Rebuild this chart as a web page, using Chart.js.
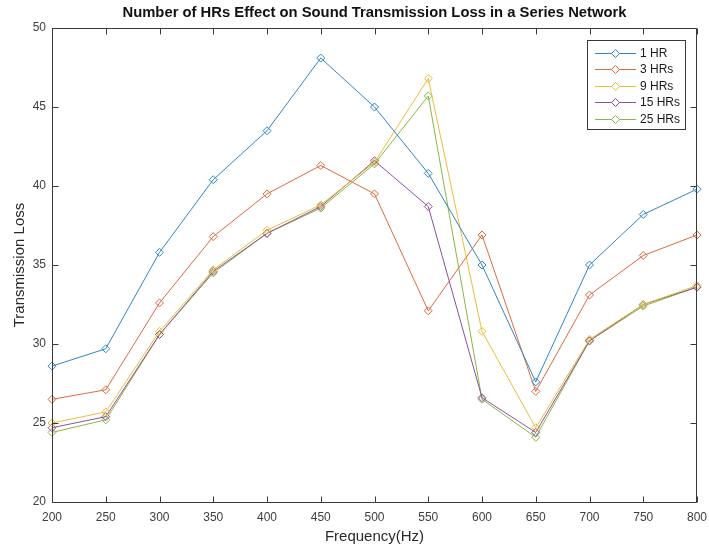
<!DOCTYPE html>
<html>
<head>
<meta charset="utf-8">
<script src="https://cdn.jsdelivr.net/npm/chart.js@4/dist/chart.umd.min.js"></script>
<style>
  html, body { margin: 0; padding: 0; background: #ffffff; }
  #wrap { width: 709px; height: 550px; position: relative; }
</style>
</head>
<body>
<div id="wrap"><canvas id="c" width="709" height="550"></canvas></div>
<script>
// Frequencies (Hz) and transmission loss for each resonator count
const freqs = [200, 250, 300, 350, 400, 450, 500, 550, 600, 650, 700, 750, 800];
const hr1  = [28.6, 29.7, 35.8, 40.4, 43.5, 48.1, 45.0, 40.8, 35.0, 27.6, 35.0, 38.2, 39.8];
const hr3  = [26.5, 27.1, 32.6, 36.8, 39.5, 41.3, 39.5, 32.1, 36.9, 27.0, 33.1, 35.6, 36.9];
const hr9  = [25.0, 25.7, 30.8, 34.7, 37.2, 38.8, 41.5, 46.8, 30.8, 24.7, 30.3, 32.5, 33.7];
const hr15 = [24.7, 25.4, 30.6, 34.6, 37.0, 38.7, 41.6, 38.7, 26.6, 24.4, 30.2, 32.5, 33.6];
const hr25 = [24.4, 25.2, 30.6, 34.5, 37.0, 38.6, 41.4, 45.7, 26.5, 24.1, 30.2, 32.4, 33.6];
const seriesNames = ['1 HR', '3 HRs', '9 HRs', '15 HRs', '25 HRs'];
const seriesValues = [hr1, hr3, hr9, hr15, hr25];
const xTicks = [200, 250, 300, 350, 400, 450, 500, 550, 600, 650, 700, 750, 800];
const yTicks = [20, 25, 30, 35, 40, 45, 50];

const colors = ['#2f87c2', '#dc6a40', '#e9bd3a', '#8f4f9f', '#88b648'];
const axisColor = '#3a3a3a';
const labelColor = '#404040';
const FONT = '"Liberation Sans", Arial, Helvetica, sans-serif';

// Box, inward tick marks, titles and the in-plot legend
const framePlugin = {
  id: 'frame',
  afterDatasetsDraw(chart) {
    const { ctx, chartArea: a, scales } = chart;
    const tl = 6;
    const L = Math.round(a.left) + 0.5, R = Math.round(a.right) - 0.5;
    const T = Math.round(a.top) + 0.5, B = Math.round(a.bottom) + 0.5;
    ctx.save();
    ctx.strokeStyle = axisColor;
    ctx.lineWidth = 1;
    ctx.beginPath();
    ctx.rect(L, T, R - L, B - T);
    ctx.stroke();
    ctx.beginPath();
    xTicks.forEach(v => {
      const x = Math.round(scales.x.getPixelForValue(v)) + 0.5;
      ctx.moveTo(x, B); ctx.lineTo(x, B - tl);
      ctx.moveTo(x, T); ctx.lineTo(x, T + tl);
    });
    yTicks.forEach(v => {
      const y = Math.round(scales.y.getPixelForValue(v)) + 0.5;
      ctx.moveTo(L, y); ctx.lineTo(L + tl, y);
      ctx.moveTo(R, y); ctx.lineTo(R - tl, y);
    });
    ctx.stroke();
    ctx.restore();
  },
  afterDraw(chart) {
    const { ctx, chartArea: a } = chart;
    const cx = (a.left + a.right) / 2;
    ctx.save();
    ctx.fillStyle = '#111111';
    ctx.textAlign = 'center';
    ctx.textBaseline = 'middle';
    ctx.font = 'bold 14.8px ' + FONT;
    ctx.fillText('Number of HRs Effect on Sound Transmission Loss in a Series Network', cx, 13);
    ctx.fillStyle = '#2a2a2a';
    ctx.font = '15px ' + FONT;
    ctx.fillText('Frequency(Hz)', cx, 537);
    ctx.translate(20, (a.top + a.bottom) / 2);
    ctx.rotate(-Math.PI / 2);
    ctx.fillText('Transmission Loss', 0, 0);
    ctx.restore();

    // legend
    ctx.save();
    const bx = 587.5, by = 40.5, bw = 98, bh = 89;
    ctx.fillStyle = '#ffffff';
    ctx.fillRect(bx, by, bw, bh);
    ctx.strokeStyle = axisColor;
    ctx.lineWidth = 1;
    ctx.strokeRect(bx, by, bw, bh);
    ctx.font = '12px ' + FONT;
    ctx.textAlign = 'left';
    ctx.textBaseline = 'middle';
    chart.data.datasets.forEach((ds, i) => {
      const y = Math.round(53 + i * 16.4) + 0.5;
      ctx.strokeStyle = ds.borderColor;
      ctx.beginPath();
      ctx.moveTo(595, y); ctx.lineTo(636, y);
      ctx.stroke();
      ctx.beginPath();
      ctx.moveTo(615.5, y - 4); ctx.lineTo(619.5, y); ctx.lineTo(615.5, y + 4); ctx.lineTo(611.5, y);
      ctx.closePath();
      ctx.fillStyle = '#ffffff';
      ctx.fill();
      ctx.stroke();
      ctx.fillStyle = '#1a1a1a';
      ctx.fillText(ds.label, 640, y + 0.5);
    });
    ctx.restore();
  }
};

new Chart(document.getElementById('c').getContext('2d'), {
  type: 'line',
  data: {
    datasets: seriesNames.map((name, i) => ({
      label: name,
      data: freqs.map((f, j) => ({ x: f, y: seriesValues[i][j] })),
      borderColor: colors[i],
      backgroundColor: 'rgba(0,0,0,0)',
      borderWidth: 1,
      pointStyle: 'rectRot',
      pointRadius: 4,
      pointBorderWidth: 1,
      pointBorderColor: colors[i],
      pointBackgroundColor: 'rgba(0,0,0,0)',
      tension: 0,
      clip: false
    }))
  },
  options: {
    responsive: false,
    animation: false,
    devicePixelRatio: 1,
    layout: { padding: { top: 28, right: 12, bottom: 0, left: 0 } },
    plugins: { legend: { display: false }, title: { display: false }, tooltip: { enabled: false } },
    scales: {
      x: {
        type: 'linear', min: 200, max: 800,
        afterBuildTicks(s) { s.ticks = xTicks.map(v => ({ value: v })); },
        ticks: { padding: 8, color: labelColor, font: { family: FONT, size: 12 }, maxRotation: 0, autoSkip: false },
        grid: { display: false, drawTicks: false },
        border: { display: false },
        afterFit(s) { s.height = 48; s.paddingLeft = 0; s.paddingRight = 0; }
      },
      y: {
        type: 'linear', min: 20, max: 50,
        afterBuildTicks(s) { s.ticks = yTicks.map(v => ({ value: v })); },
        ticks: { padding: 6, color: labelColor, font: { family: FONT, size: 12 } },
        grid: { display: false, drawTicks: false },
        border: { display: false },
        afterFit(s) { s.width = 52; s.paddingTop = 0; s.paddingBottom = 0; }
      }
    }
  },
  plugins: [framePlugin]
});
</script>
</body>
</html>
